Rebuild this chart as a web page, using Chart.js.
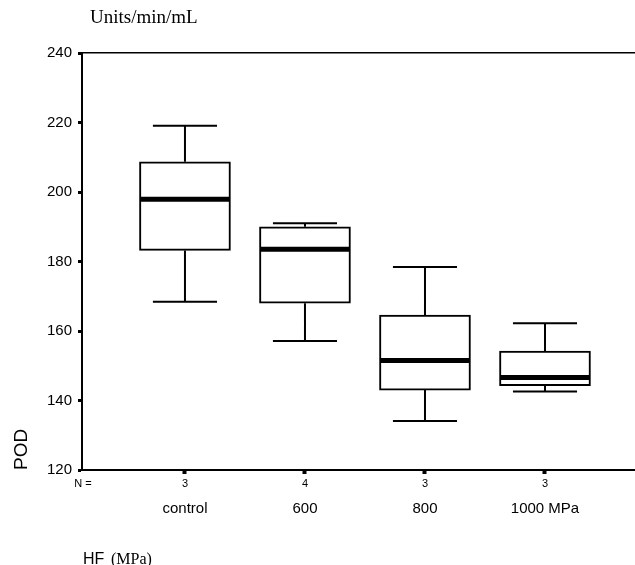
<!DOCTYPE html>
<html>
<head>
<meta charset="utf-8">
<script src="https://cdn.jsdelivr.net/npm/chart.js@4/dist/chart.umd.min.js"></script>
<style>
html,body{margin:0;padding:0;background:#fff;}
canvas{display:block;}
</style>
</head>
<body>
<canvas id="c" width="635" height="565"></canvas>
<script>
const categories = ["control", "600", "800", "1000 MPa"];
const nCounts = ["3", "4", "3", "3"];
const whiskerLow = [168.4, 157.1, 134.1, 142.6];
const q1 = [183.2, 168.0, 143.0, 144.3];
const median = [197.9, 183.5, 151.5, 146.6];
const q3 = [208.7, 190.0, 164.6, 154.2];
const whiskerHigh = [219.1, 191.0, 178.4, 162.2];
const yTicks = [120, 140, 160, 180, 200, 220, 240];

const X_MIN = 0.142, X_MAX = 4.75;
const CAP_HALF = 0.267, BOX_HALF = 0.375;

const boxData = categories.map((c, i) => ({x: i + 1, y: [q1[i], q3[i]]}));
const medianData = [];
const whiskerData = [];
categories.forEach((c, i) => {
  const x = i + 1;
  medianData.push({x: x - BOX_HALF, y: median[i]}, {x: x + BOX_HALF, y: median[i]}, {x: x, y: NaN});
  whiskerData.push({x: x, y: q3[i]}, {x: x, y: whiskerHigh[i]}, {x: x, y: NaN});
  whiskerData.push({x: x - CAP_HALF, y: whiskerHigh[i]}, {x: x + CAP_HALF, y: whiskerHigh[i]}, {x: x, y: NaN});
  whiskerData.push({x: x, y: q1[i]}, {x: x, y: whiskerLow[i]}, {x: x, y: NaN});
  whiskerData.push({x: x - CAP_HALF, y: whiskerLow[i]}, {x: x + CAP_HALF, y: whiskerLow[i]}, {x: x, y: NaN});
});

const textPlugin = {
  id: 'texts',
  afterDraw(chart) {
    const ctx = chart.ctx;
    const xs = chart.scales.x;
    ctx.save();
    ctx.fillStyle = '#000';
    ctx.font = '19px "Liberation Serif", "Times New Roman", serif';
    ctx.textAlign = 'left';
    ctx.textBaseline = 'middle';
    ctx.fillText('Units/min/mL', 90, 18);

    ctx.font = '11px "Liberation Sans", Arial, sans-serif';
    ctx.textAlign = 'center';
    ctx.fillText('N =', 83, 484);
    nCounts.forEach((n, i) => {
      ctx.fillText(n, xs.getPixelForValue(i + 1), 484);
    });

    ctx.textAlign = 'left';
    ctx.textBaseline = 'alphabetic';
    ctx.font = '16px "Liberation Sans", Arial, sans-serif';
    ctx.fillText('HF', 83, 564);
    ctx.font = '16px "Liberation Serif", "Times New Roman", serif';
    ctx.fillText('(MPa)', 111, 564);
    ctx.restore();
  }
};

new Chart(document.getElementById('c'), {
  data: {
    datasets: [
      {
        type: 'bar',
        data: boxData,
        backgroundColor: '#fff',
        borderColor: '#000',
        borderWidth: 2,
        borderSkipped: false,
        barThickness: 91,
        order: 3
      },
      {
        type: 'line',
        data: whiskerData,
        borderColor: '#000',
        borderWidth: 2,
        pointRadius: 0,
        spanGaps: false,
        tension: 0,
        order: 2
      },
      {
        type: 'line',
        data: medianData,
        borderColor: '#000',
        borderWidth: 5,
        borderCapStyle: 'butt',
        pointRadius: 0,
        spanGaps: false,
        tension: 0,
        order: 1
      }
    ]
  },
  options: {
    responsive: false,
    animation: false,
    events: [],
    layout: {padding: {top: 53, left: 0, right: 0, bottom: 0}},
    plugins: {legend: {display: false}, tooltip: {enabled: false}, title: {display: false}},
    scales: {
      x: {
        type: 'linear',
        position: 'bottom',
        offset: false,
        min: X_MIN,
        max: X_MAX,
        afterBuildTicks: (s) => { s.ticks = categories.map((c, i) => ({value: i + 1})); },
        afterFit: (s) => { s.height = 95; },
        ticks: {
          callback: (v) => categories[Math.round(v) - 1],
          color: '#000',
          font: {family: '"Liberation Sans", Arial, sans-serif', size: 15},
          padding: 26,
          maxRotation: 0,
          autoSkip: false
        },
        grid: {offset: false, drawOnChartArea: false, drawTicks: true, tickLength: 4, tickWidth: 4, tickColor: '#000'},
        border: {display: true, color: '#000', width: 2}
      },
      x2: {
        type: 'linear',
        position: 'top',
        offset: false,
        min: X_MIN,
        max: X_MAX,
        afterFit: (s) => { s.height = 0; },
        ticks: {display: false},
        grid: {display: false},
        border: {display: true, color: '#000', width: 1.5}
      },
      y: {
        type: 'linear',
        min: 120,
        max: 240,
        afterBuildTicks: (s) => { s.ticks = yTicks.map(v => ({value: v})); },
        afterFit: (s) => { s.width = 82; },
        ticks: {
          color: '#000',
          font: {family: '"Liberation Sans", Arial, sans-serif', size: 15},
          padding: 6
        },
        grid: {drawOnChartArea: false, drawTicks: true, tickLength: 4, tickWidth: 3, tickColor: '#000'},
        border: {display: true, color: '#000', width: 2},
        title: {
          display: true,
          text: 'POD',
          align: 'start',
          color: '#000',
          font: {family: '"Liberation Sans", Arial, sans-serif', size: 19},
          padding: {top: 10, bottom: 0}
        }
      }
    }
  },
  plugins: [textPlugin]
});
</script>
</body>
</html>
